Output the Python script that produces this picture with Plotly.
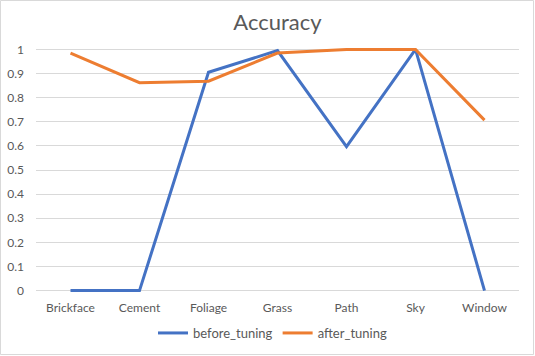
import plotly.graph_objects as go

categories = ["Brickface", "Cement", "Foliage", "Grass", "Path", "Sky", "Window"]
before_tuning = [0.0, 0.0, 0.905, 0.995, 0.597, 1.0, 0.0]
after_tuning = [0.985, 0.862, 0.868, 0.985, 1.0, 1.0, 0.707]
y_ticks = [0, 0.1, 0.2, 0.3, 0.4, 0.5, 0.6, 0.7, 0.8, 0.9, 1]

W, H = 535, 356
ML, MR, MT, MB = 36, 16, 47, 63
FONT = "Lato, Open Sans, DejaVu Sans, sans-serif"
TXT = "#595959"

fig = go.Figure()
fig.add_trace(go.Scatter(x=categories, y=before_tuning, mode="lines", name="before_tuning",
                         line=dict(color="#4472C4", width=3)))
fig.add_trace(go.Scatter(x=categories, y=after_tuning, mode="lines", name="after_tuning",
                         line=dict(color="#ED7D31", width=3)))

pw = W - ML - MR
ph = H - MT - MB
fig.add_shape(type="rect", xref="paper", yref="paper",
              x0=-(ML - 0.5) / pw, x1=1 + (MR - 1.5) / pw,
              y0=-(MB - 1.5) / ph, y1=1 + (MT - 0.5) / ph,
              line=dict(color="#D9D9D9", width=1), layer="below")

fig.update_layout(
    width=W, height=H,
    margin=dict(l=ML, r=MR, t=MT, b=MB, autoexpand=False),
    paper_bgcolor="white", plot_bgcolor="white",
    font=dict(family=FONT, size=12, color=TXT),
    title=dict(text="Accuracy", x=0.5, xanchor="center", xref="paper",
               y=1 - 22 / H, yanchor="middle",
               font=dict(family=FONT, size=22, color=TXT)),
    showlegend=True,
    legend=dict(orientation="h", x=(153 - ML) / pw, xanchor="left", y=-(333 - MT - ph) / ph,
                yanchor="middle", font=dict(size=13, color=TXT), itemwidth=30,
                bgcolor="rgba(0,0,0,0)"),
    xaxis=dict(type="category", range=[-0.5, len(categories) - 0.5], showgrid=False,
               showline=False, ticks="", ticklabelstandoff=6, tickfont=dict(size=12, color=TXT)),
    yaxis=dict(range=[-0.01, 1.01], tickvals=y_ticks, ticktext=[f"{v:g}" for v in y_ticks],
               showgrid=True, gridcolor="#D9D9D9", gridwidth=1, zeroline=False,
               showline=False, ticks="", ticklabelstandoff=11, tickfont=dict(size=12, color=TXT)),
)

fig.write_html("out.html", config={"displayModeBar": False},
               post_script="document.body.style.margin='0';document.body.style.overflow='hidden';")
